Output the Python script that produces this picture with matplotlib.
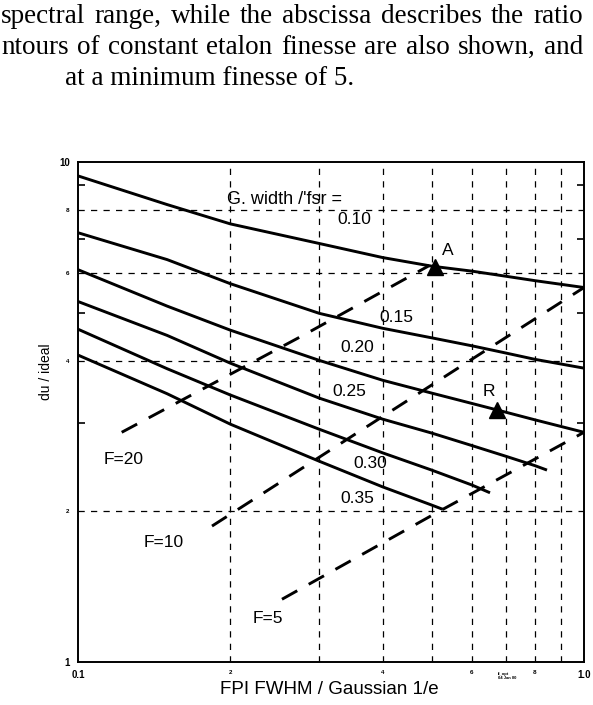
import numpy as np
from matplotlib import pyplot as plt

# constant G. width / fsr curves
curve_ratio = ['0.10', '0.15', '0.20', '0.25', '0.30', '0.35']
curve_x = [
    [0.1, 0.15, 0.2, 0.3, 0.4, 0.5, 0.6, 0.7, 0.8, 1.0],
    [0.1, 0.15, 0.2, 0.3, 0.4, 0.5, 0.6, 0.7, 0.8, 1.0],
    [0.1, 0.15, 0.2, 0.3, 0.4, 0.5, 0.6, 0.7, 0.8, 1.0],
    [0.1, 0.15, 0.2, 0.3, 0.4, 0.5, 0.6, 0.7, 0.8, 0.845],
    [0.1, 0.15, 0.2, 0.3, 0.4, 0.5, 0.6, 0.652],
    [0.1, 0.15, 0.2, 0.3, 0.4, 0.5, 0.526],
]
curve_y = [
    [9.38, 8.22, 7.52, 6.87, 6.44, 6.19, 6.05, 5.91, 5.79, 5.61],
    [7.22, 6.38, 5.71, 4.98, 4.65, 4.45, 4.29, 4.15, 4.03, 3.87],
    [6.09, 5.15, 4.61, 4.01, 3.66, 3.45, 3.29, 3.16, 3.05, 2.88],
    [5.26, 4.50, 3.96, 3.37, 3.06, 2.87, 2.71, 2.58, 2.47, 2.42],
    [4.63, 3.86, 3.42, 2.92, 2.62, 2.42, 2.26, 2.18],
    [4.11, 3.44, 2.99, 2.52, 2.24, 2.06, 2.02],
]
# label position for each curve
curve_label_x = [0.352, 0.426, 0.357, 0.343, 0.378, 0.357]
curve_label_y = [7.66, 4.89, 4.26, 3.48, 2.49, 2.12]

# constant finesse contours (dashed)
finesse = ['F=20', 'F=10', 'F=5']
finesse_x = [[0.122, 0.283, 0.495], [0.184, 0.568, 1.0], [0.253, 0.512, 1.0]]
finesse_y = [[2.88, 4.54, 6.21], [1.87, 3.89, 5.61], [1.335, 1.99, 2.88]]
finesse_label_x = [0.123, 0.148, 0.237]
finesse_label_y = [2.54, 1.73, 1.22]

# marked points
point_names = ['A', 'R']
point_x = [0.507, 0.673]
point_y = [6.18, 3.19]
point_label_x = [0.538, 0.649]
point_label_y = [6.65, 3.47]

x_ticks = [0.1, 0.2, 0.4, 0.6, 0.8, 1.0]
x_tick_labels = ['0.1', '2', '4', '6', '8', '1.0']
y_ticks = [1, 2, 4, 6, 8, 10]
y_tick_labels = ['1', '2', '4', '6', '8', '10']

page_lines = [
    'spectral range, while the abscissa describes the ratio',
    'ntours of constant etalon finesse are also shown, and',
    'at a minimum finesse of 5.',
]

W, H = 593, 705
fig = plt.figure(figsize=(W / 100, H / 100), dpi=100)
plt.rcParams['font.family'] = 'Liberation Sans'
renderer = fig.canvas.get_renderer()

# text of the scanned page above the figure (justified, last line ragged)
page_x0 = [1, 1, 65]
page_x1 = [583, 583, None]
page_y = [23, 54, 85]
page_size = 19.5
for txt, x0, x1, py in zip(page_lines, page_x0, page_x1, page_y):
    if x1 is None:
        fig.text(x0 / W, 1 - py / H, txt, family='Liberation Serif',
                 fontsize=page_size, va='baseline', ha='left')
        continue
    words = txt.split()
    items = [fig.text(0, 1 - py / H, w, family='Liberation Serif', fontsize=page_size,
                      va='baseline', ha='left') for w in words]
    widths = [t.get_window_extent(renderer).width for t in items]
    gap = (x1 - x0 - sum(widths)) / (len(words) - 1)
    cx = x0
    for t, w in zip(items, widths):
        t.set_x(cx / W)
        cx += w + gap

ax = fig.add_axes([78 / W, (H - 662) / H, (584 - 78) / W, (662 - 162) / H])
ax.set_xscale('log')
ax.set_yscale('log')
ax.set_xlim(0.1, 1.0)
ax.set_ylim(1, 10)

# dashed grid
for gx in [0.2, 0.3, 0.4, 0.5, 0.6, 0.7, 0.8, 0.9]:
    ax.axvline(gx, color='black', lw=0.9, dashes=(5, 5), zorder=1)
for gy in [2, 4, 6, 8]:
    ax.axhline(gy, color='black', lw=0.9, dashes=(5, 5), zorder=1)

for xs, ys in zip(curve_x, curve_y):
    ax.plot(xs, ys, color='black', lw=2.1, solid_capstyle='butt',
            solid_joinstyle='round', zorder=3)

for xs, ys in zip(finesse_x, finesse_y):
    ax.plot(xs, ys, color='black', lw=2.1, dashes=(6, 4.5), zorder=3)

ax.plot(point_x, point_y, '^', color='black', markersize=12, zorder=4)

for lbl, lx, ly in zip(point_names, point_label_x, point_label_y):
    ax.text(lx, ly, lbl, fontsize=12.5, ha='center', va='center')
for lbl, lx, ly in zip(curve_ratio, curve_label_x, curve_label_y):
    ax.text(lx, ly, lbl, fontsize=12.5, ha='center', va='center')
for lbl, lx, ly in zip(finesse, finesse_label_x, finesse_label_y):
    ax.text(lx, ly, lbl, fontsize=12.5, ha='center', va='center')
ax.text(0.197, 8.4, "G. width /'fsr =", fontsize=13, ha='left', va='center')

for s in ax.spines.values():
    s.set_linewidth(1.4)

ax.set_xticks(x_ticks, x_tick_labels)
ax.set_yticks(y_ticks, y_tick_labels)
ax.set_xticks([0.3, 0.5, 0.7, 0.9], minor=True)
ax.set_yticks([3, 5, 7, 9], minor=True)
ax.xaxis.set_minor_formatter(plt.NullFormatter())
ax.yaxis.set_minor_formatter(plt.NullFormatter())
ax.tick_params(which='both', direction='in', length=0)
ax.tick_params(axis='y', which='both', right=True, length=5, width=1.2, pad=6)
ax.tick_params(axis='y', which='major', length=0)
ax.tick_params(axis='x', which='major', pad=6)

for t in ax.get_xticklabels() + ax.get_yticklabels():
    big = t.get_text() in ('0.1', '1.0', '1', '10')
    t.set_fontsize(7 if big else 4.5)
    t.set_fontweight('bold')

fig.text(46 / W, 1 - 372 / H, 'du / ideal', rotation=90, fontsize=10,
         ha='center', va='center')
fig.text(329 / W, 1 - 689 / H, 'FPI FWHM / Gaussian 1/e', fontsize=13.5,
         ha='center', va='center')
fig.text(498 / W, 1 - 676 / H, 'fi_opt\n04 Jan 00', fontsize=3, fontweight='bold',
         ha='left', va='center', linespacing=1.0)

fig.savefig('out.png', dpi=100)
